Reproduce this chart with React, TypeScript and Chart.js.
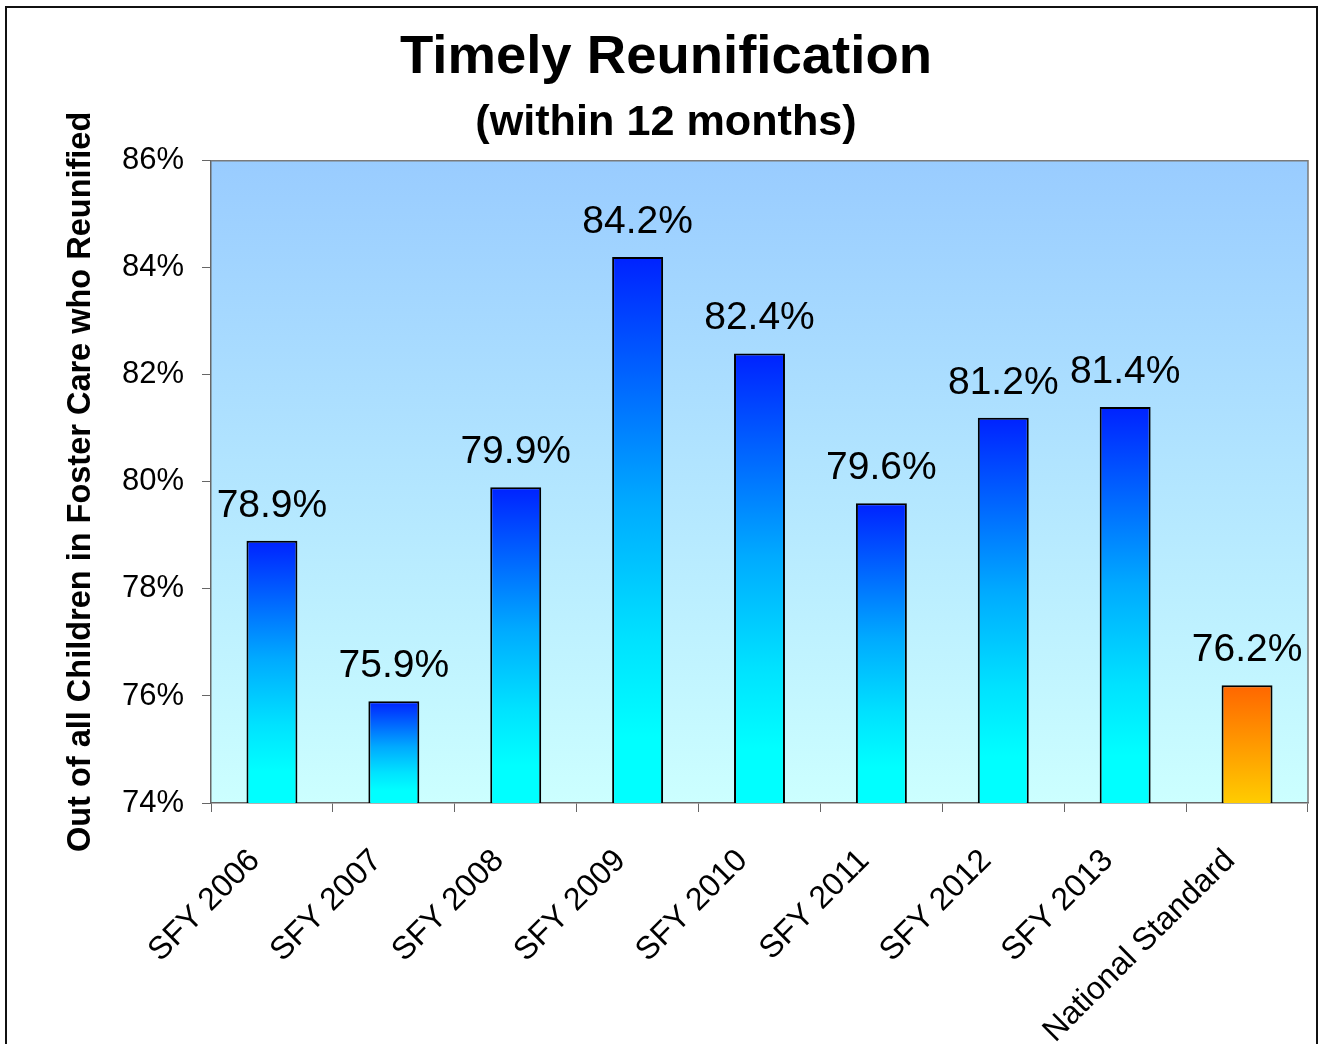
import React, { useEffect, useRef } from "react";
import { Chart, registerables } from "chart.js";

Chart.register(...registerables);

// Reunification rate per state fiscal year, plus the national standard
const categories = [
  "SFY 2006",
  "SFY 2007",
  "SFY 2008",
  "SFY 2009",
  "SFY 2010",
  "SFY 2011",
  "SFY 2012",
  "SFY 2013",
  "National Standard",
];
const values = [78.9, 75.9, 79.9, 84.2, 82.4, 79.6, 81.2, 81.4, 76.2];
const isBenchmark = [false, false, false, false, false, false, false, false, true];

const yMin = 74;
const yMax = 86;
const yStep = 2;

const titleText = "Timely Reunification";
const subtitleText = "(within 12 months)";
const yAxisTitle = "Out of all Children in Foster Care who Reunified";

const FONT = "'Liberation Sans', Arial, Helvetica, sans-serif";

const W = 1320;
const H = 1044;
const PAD_LEFT = 12;
const PLOT_LEFT = 211;
const PLOT_RIGHT = 1308;
const PLOT_TOP = 161;
const PLOT_BOTTOM = 803;

const chartDecor = {
  id: "chartDecor",
  beforeDraw(chart: any) {
    const { ctx, chartArea } = chart;
    ctx.save();
    ctx.fillStyle = "#ffffff";
    ctx.fillRect(0, 0, chart.width, chart.height);
    const g = ctx.createLinearGradient(0, chartArea.top, 0, chartArea.bottom);
    g.addColorStop(0, "#99CCFF");
    g.addColorStop(1, "#CCFFFF");
    ctx.fillStyle = g;
    ctx.fillRect(chartArea.left, chartArea.top, chartArea.right - chartArea.left, chartArea.bottom - chartArea.top);
    ctx.restore();
  },
  afterDatasetsDraw(chart: any) {
    const { ctx } = chart;
    const meta = chart.getDatasetMeta(0);
    ctx.save();
    ctx.fillStyle = "#000000";
    ctx.font = `39px ${FONT}`;
    ctx.textAlign = "center";
    ctx.textBaseline = "alphabetic";
    meta.data.forEach((bar: any, i: number) => {
      ctx.fillText(`${values[i].toFixed(1)}%`, bar.x, bar.y - 24);
    });
    ctx.restore();
  },
  afterDraw(chart: any) {
    const { ctx, chartArea } = chart;
    ctx.save();
    // top and right edges of the plot area
    ctx.strokeStyle = "#7a7a7a";
    ctx.lineWidth = 1.5;
    ctx.beginPath();
    ctx.moveTo(chartArea.left, chartArea.top);
    ctx.lineTo(chartArea.right, chartArea.top);
    ctx.lineTo(chartArea.right, chartArea.bottom);
    ctx.stroke();
    // outer frame
    ctx.strokeStyle = "#111111";
    ctx.lineWidth = 2;
    ctx.strokeRect(6, 7, 1311, H + 20);
    ctx.restore();
  },
};

function barFill(ctx: any) {
  const chart = ctx.chart;
  const { chartArea, scales } = chart;
  const i = ctx.dataIndex;
  const bench = isBenchmark[i];
  if (!chartArea || !scales || !scales.y || ctx.type !== "data") {
    return bench ? "#FF9900" : "#0066FF";
  }
  const top = scales.y.getPixelForValue(values[i]);
  const bottom = scales.y.getPixelForValue(yMin);
  const g = chart.ctx.createLinearGradient(0, top, 0, bottom);
  if (bench) {
    g.addColorStop(0, "#FF6600");
    g.addColorStop(1, "#FFCC00");
  } else {
    g.addColorStop(0, "#0022FF");
    g.addColorStop(0.45, "#00AAFF");
    g.addColorStop(0.7, "#00E2FF");
    g.addColorStop(0.88, "#00FFFF");
    g.addColorStop(1, "#00FFFF");
  }
  return g;
}

export default function App() {
  const canvasRef = useRef<HTMLCanvasElement | null>(null);

  useEffect(() => {
    document.body.style.margin = "0";
    const canvas = canvasRef.current;
    if (!canvas) return;
    const chart = new Chart(canvas, {
      type: "bar",
      data: {
        labels: categories,
        datasets: [
          {
            data: values,
            backgroundColor: barFill as any,
            borderColor: "#000000",
            borderWidth: 2,
            borderSkipped: false,
            barPercentage: 0.418,
            categoryPercentage: 1,
          },
        ],
      },
      options: {
        responsive: false,
        animation: false,
        devicePixelRatio: 1,
        layout: { padding: { left: PAD_LEFT, right: 0, top: 0, bottom: 0 } },
        plugins: {
          legend: { display: false },
          tooltip: { enabled: false },
          title: {
            display: true,
            text: titleText,
            color: "#000000",
            font: { family: FONT, size: 54.5, weight: "bold", lineHeight: 1.2 },
            padding: { top: 25, bottom: 0 },
          },
          subtitle: {
            display: true,
            text: subtitleText,
            color: "#000000",
            font: { family: FONT, size: 43.2, weight: "bold", lineHeight: 1.2 },
            padding: { top: 6.5, bottom: 12 },
          },
        },
        scales: {
          x: {
            grid: {
              display: true,
              drawOnChartArea: false,
              drawTicks: true,
              tickLength: 9,
              tickColor: "#666666",
              offset: true,
            },
            border: { display: true, color: "#666666", width: 1.5 },
            ticks: {
              color: "#000000",
              font: { family: FONT, size: 32 },
              minRotation: 45,
              maxRotation: 45,
              autoSkip: false,
              padding: 30,
              labelOffset: -17,
            },
            afterFit(scale: any) {
              scale.height = H - PLOT_BOTTOM;
              scale.paddingLeft = 0;
              scale.paddingRight = W - PLOT_RIGHT;
            },
          },
          y: {
            min: yMin,
            max: yMax,
            grid: {
              display: true,
              drawOnChartArea: false,
              drawTicks: true,
              tickLength: 9,
              tickColor: "#666666",
            },
            border: { display: true, color: "#666666", width: 1.5 },
            ticks: {
              stepSize: yStep,
              color: "#000000",
              font: { family: FONT, size: 31 },
              padding: 18,
              callback: (v: any) => `${v}%`,
            },
            title: {
              display: true,
              text: yAxisTitle,
              color: "#000000",
              font: { family: FONT, size: 32.5, weight: "bold", lineHeight: 1.2 },
              padding: { top: 49.5, bottom: 0 },
            },
            afterFit(scale: any) {
              scale.width = PLOT_LEFT - PAD_LEFT;
              scale.paddingTop = 0;
              scale.paddingBottom = 0;
            },
          },
        },
      },
      plugins: [chartDecor],
    });
    return () => chart.destroy();
  }, []);

  return (
    <div style={{ width: W, height: H, overflow: "hidden" }}>
      <canvas ref={canvasRef} width={W} height={H} style={{ display: "block", width: W, height: H }} />
    </div>
  );
}
